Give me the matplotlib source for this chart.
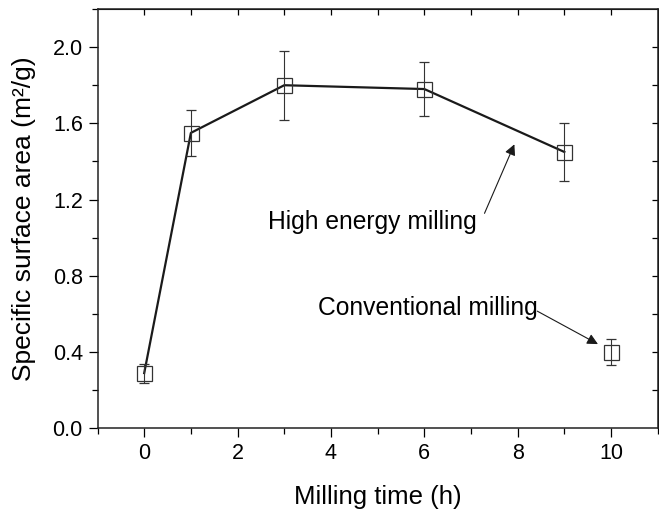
import numpy as np
import matplotlib
matplotlib.use("Agg")
import matplotlib.pyplot as plt
from matplotlib.ticker import MultipleLocator

plt.rcParams["font.family"] = ["Liberation Sans", "DejaVu Sans"]

# high energy milling series
he_time = [0, 1, 3, 6, 9]
he_area = [0.29, 1.55, 1.80, 1.78, 1.45]
he_err = [0.05, 0.12, 0.18, 0.14, 0.15]

# conventional milling point
conv_time = [10]
conv_area = [0.40]
conv_err = [0.07]

xticks = [0, 2, 4, 6, 8, 10]
yticks = [0.0, 0.4, 0.8, 1.2, 1.6, 2.0]

fig = plt.figure(figsize=(6.59, 5.13), dpi=100)
ax = fig.add_axes([0.148, 0.165, 0.850, 0.8175])

ax.plot(he_time, he_area, color="#1a1a1a", lw=1.6, zorder=3)
for t, a, e in [(he_time, he_area, he_err), (conv_time, conv_area, conv_err)]:
    ax.errorbar(t, a, yerr=e, fmt="s", ms=10.8, mfc="none", mec="#333333",
                mew=0.9, ecolor="#333333", elinewidth=0.8, capsize=3.6,
                capthick=0.8, zorder=4)

ax.set_xlim(-1, 11)
ax.set_ylim(0, 2.2)
ax.set_xticks(xticks)
ax.set_yticks(yticks)
ax.set_yticklabels([f"{v:.1f}" for v in yticks])
ax.xaxis.set_minor_locator(MultipleLocator(1))
ax.yaxis.set_minor_locator(MultipleLocator(0.2))
ax.tick_params(which="major", direction="out", length=6.3, width=0.9,
               labelsize=15.5, pad=4.5)
ax.tick_params(which="minor", direction="out", length=4, width=0.9)
ax.tick_params(axis="y", which="major", pad=4.3)
for s in ax.spines.values():
    s.set_linewidth(1.1)
    s.set_color("#222222")

# inward ticks on top and right
top = ax.secondary_xaxis("top")
top.set_xticks(np.arange(0, 11, 1))
top.tick_params(direction="in", length=4, width=0.9, labeltop=False)
right = ax.secondary_yaxis("right")
right.set_yticks(np.arange(0.2, 2.2, 0.2))
right.tick_params(direction="in", length=4, width=0.9, labelright=False)

ax.set_xlabel("Milling time (h)", fontsize=18.5, labelpad=15)
ax.set_ylabel("Specific surface area (m²/g)", fontsize=19, labelpad=12)

arrow = dict(arrowstyle="-|>", lw=0.8, color="#1a1a1a", mutation_scale=16,
             shrinkA=0, shrinkB=0)
ax.text(4.89, 1.048, "High energy milling", fontsize=17.7, ha="center",
        va="baseline")
ax.annotate("", xy=(7.93, 1.49), xytext=(7.29, 1.128), arrowprops=arrow)
ax.text(6.08, 0.594, "Conventional milling", fontsize=17.7, ha="center",
        va="baseline")
ax.annotate("", xy=(9.72, 0.442), xytext=(8.42, 0.615), arrowprops=arrow)

fig.savefig("out.png", dpi=100)
plt.close(fig)
